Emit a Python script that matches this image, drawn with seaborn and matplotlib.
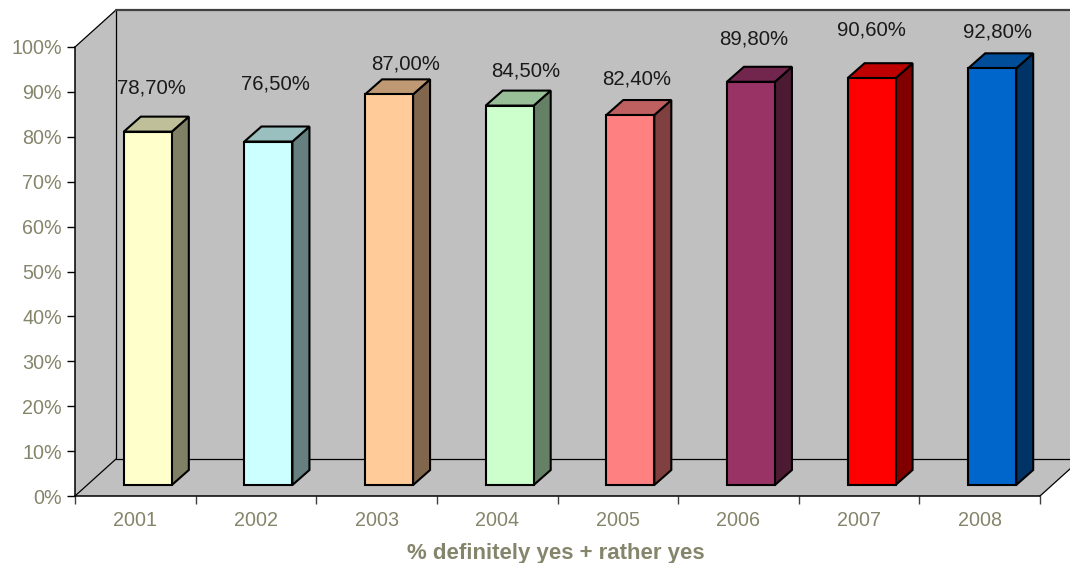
import matplotlib
matplotlib.use("Agg")
import matplotlib.pyplot as plt
import seaborn as sns
import pandas as pd
from matplotlib.colors import to_rgb
from matplotlib.patches import Polygon
from matplotlib.transforms import Affine2D

# Survey results per year
years = ["2001", "2002", "2003", "2004", "2005", "2006", "2007", "2008"]
shares = [78.7, 76.5, 87.0, 84.5, 82.4, 89.8, 90.6, 92.8]
value_labels = ["78,70%", "76,50%", "87,00%", "84,50%", "82,40%", "89,80%", "90,60%", "92,80%"]
bar_colors = ["#FFFFCC", "#CCFFFF", "#FFCC99", "#CCFFCC", "#FF8080", "#993366", "#FF0000", "#0066CC"]
y_ticks = list(range(0, 101, 10))
x_title = "% definitely yes + rather yes"

# Pixel offsets of each value label from its bar's nominal top
label_dx = [15.7, 19.1, 29.5, 28.9, 19.3, 15.7, 12.1, 17.5]
label_dy = [54.6, 68.5, 41.4, 45.6, 47.0, 53.8, 59.2, 47.3]

W, H, DPI = 1070, 563, 100
LEFT, RIGHT, BOTTOM, TOP = 75, 1040, 496, 47
WALL_DX, WALL_DY = 41, 37      # depth of the chart box, px
BAR_DX, BAR_DY = 12.5, 11      # bar inset from the front plane, px
SIDE_DX, SIDE_DY = 17, 15      # depth of each bar, px
TEXT = "#85856B"

sns.set_theme(style="white", rc={"font.family": ["Liberation Sans", "DejaVu Sans"]})
fig = plt.figure(figsize=(W / DPI, H / DPI), dpi=DPI, facecolor="white")
ax = fig.add_axes([LEFT / W, (H - BOTTOM) / H, (RIGHT - LEFT) / W, (BOTTOM - TOP) / H])
ax.patch.set_visible(False)

frame = pd.DataFrame({"year": years, "share": shares})
sns.barplot(data=frame, x="year", y="share", hue="year", palette=dict(zip(years, bar_colors)),
            width=48 / 120.6, edgecolor="black", linewidth=1.5, saturation=1,
            legend=False, ax=ax, zorder=5)
ax.set_xlim(-0.5, len(years) - 0.5)
ax.set_ylim(0, 100)


def shifted(dx, dy):
    return ax.transData + Affine2D().translate(dx, dy)


def pushed_back(x, y):
    """Axis coordinates of the point lying behind (x, y) at the far side of the box."""
    point = ax.transData.transform((x, y)) + (WALL_DX, WALL_DY)
    return ax.transData.inverted().transform(point)


# Box walls: back wall, left wall and floor
x0, x1 = ax.get_xlim()
y0, y1 = ax.get_ylim()
corner = pushed_back(x0, y0)
top_corner = pushed_back(x0, y1)
right_corner = pushed_back(x1, y0)
far_corner = pushed_back(x1, y1)
wall_kw = dict(facecolor="#C0C0C0", edgecolor="none", clip_on=False, zorder=1)
ax.add_patch(Polygon([corner, top_corner, far_corner, right_corner], **wall_kw))
ax.add_patch(Polygon([(x0, y0), (x0, y1), top_corner, corner], **wall_kw))
ax.add_patch(Polygon([(x0, y0), (x1, y0), right_corner, corner], **wall_kw))

line_kw = dict(color="black", linewidth=0.9, clip_on=False, zorder=2)
ax.plot([x0, top_corner[0]], [y1, top_corner[1]], **line_kw)
ax.plot([x0, corner[0]], [y0, corner[1]], **line_kw)
ax.plot([x1, right_corner[0]], [y0, right_corner[1]], **line_kw)
ax.plot([corner[0], top_corner[0]], [corner[1], top_corner[1]], **line_kw)
ax.plot([corner[0], right_corner[0]], [corner[1], right_corner[1]], **line_kw)
ax.plot([top_corner[0], far_corner[0]], [top_corner[1], far_corner[1]],
        color="#404040", linewidth=1.6, clip_on=False, zorder=2)

# Extrude each bar: a darker top and a darkest side face
front = shifted(BAR_DX, BAR_DY)
to_data = ax.transData.inverted()
step = (SIDE_DX, SIDE_DY)
for bar, color in zip(ax.patches, bar_colors):
    left, right, height = bar.get_x(), bar.get_x() + bar.get_width(), bar.get_height()
    bar.set_transform(front)
    bar.set_clip_on(False)
    rgb = to_rgb(color)
    bl, br, tl, tr = front.transform([(left, 0), (right, 0), (left, height), (right, height)])
    ax.add_patch(Polygon(to_data.transform([br, tr, tr + step, br + step]),
                         facecolor=tuple(c * 0.5 for c in rgb),
                         edgecolor="black", linewidth=1.5, clip_on=False, zorder=4))
    ax.add_patch(Polygon(to_data.transform([tl, tr, tr + step, tl + step]),
                         facecolor=tuple(c * 0.75 for c in rgb),
                         edgecolor="black", linewidth=1.5, clip_on=False, zorder=4))

for i, (share, text) in enumerate(zip(shares, value_labels)):
    ax.annotate(text, xy=(i, share), xytext=(label_dx[i], label_dy[i]),
                textcoords="offset pixels", ha="center", va="center",
                fontsize=14.7, color="#1A1A1A", zorder=8, annotation_clip=False)

# Axes furniture: ticks sit on category boundaries, labels between them
sns.despine(ax=ax)
for name in ("left", "bottom"):
    ax.spines[name].set_color("black")
    ax.spines[name].set_linewidth(1.1)
    ax.spines[name].set_zorder(6)
ax.set_yticks(y_ticks, [f"{v}%" for v in y_ticks])
ax.set_xticks([i - 0.5 for i in range(len(years) + 1)], [""] * (len(years) + 1))
ax.set_xticks(range(len(years)), years, minor=True)
ax.tick_params(axis="y", which="major", direction="out", left=True, length=5.8, width=1.0,
               color="black", labelcolor=TEXT, labelsize=14.2, pad=3.5)
ax.tick_params(axis="x", which="major", direction="out", bottom=True, length=5.8, width=1.0,
               color="#404040")
ax.tick_params(axis="x", which="minor", bottom=False, length=0, labelcolor=TEXT, labelsize=14.2, pad=11)
ax.set_xlabel(x_title, fontsize=16, fontweight="bold", color=TEXT, labelpad=9)
ax.xaxis.label.set_x((556 - LEFT) / (RIGHT - LEFT))
ax.set_ylabel("")

fig.savefig("out.png", dpi=DPI, facecolor="white")
